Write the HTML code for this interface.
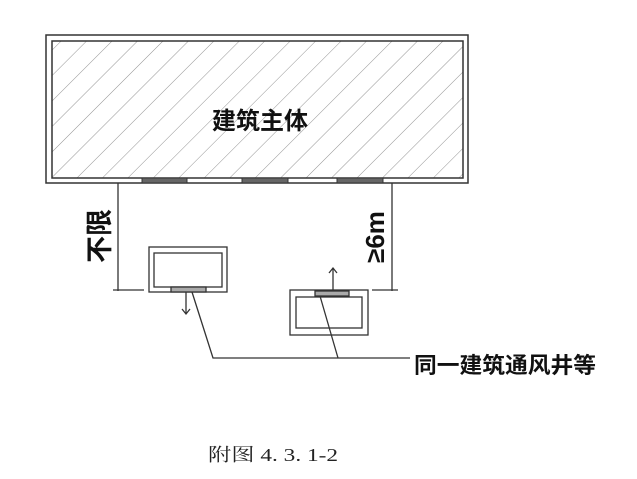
<!DOCTYPE html>
<html><head><meta charset="utf-8"><style>
html,body{margin:0;padding:0;background:#fff;width:637px;height:479px;overflow:hidden}
</style></head><body>
<svg width="637" height="479" viewBox="0 0 637 479" xmlns="http://www.w3.org/2000/svg">
<defs>
<pattern id="h" patternUnits="userSpaceOnUse" width="18" height="18" patternTransform="rotate(45)">
<line x1="0" y1="0" x2="0" y2="18" stroke="#888" stroke-width="0.9"/>
</pattern>
</defs>
<rect x="46" y="35" width="422" height="148" fill="#fff" stroke="#333" stroke-width="1.5"/>
<rect x="52" y="41" width="411" height="137" fill="url(#h)" stroke="#333" stroke-width="1.5"/>
<rect x="142" y="178" width="45" height="5" fill="#666" stroke="#333"/>
<rect x="242" y="178" width="46" height="5" fill="#666" stroke="#333"/>
<rect x="337" y="178" width="46" height="5" fill="#666" stroke="#333"/>
<text x="260" y="129" font-family="'Liberation Sans','Noto Sans CJK SC',sans-serif" font-size="24" font-weight="bold" text-anchor="middle" fill="#111">建筑主体</text>
<g stroke="#333" stroke-width="1.3" fill="none">
<line x1="118" y1="183" x2="118" y2="291"/>
<line x1="113" y1="290" x2="144" y2="290"/>
<line x1="392" y1="183" x2="392" y2="291"/>
<line x1="372" y1="290" x2="398" y2="290"/>
<rect x="149" y="247" width="78" height="45"/>
<rect x="154" y="253" width="68" height="34"/>
<rect x="171" y="287" width="35" height="5" fill="#aaa"/>
<line x1="186" y1="292" x2="186" y2="313"/>
<polyline points="182,309 186,314 190,309"/>
<rect x="290" y="290" width="78" height="45"/>
<rect x="296" y="297" width="66" height="31"/>
<rect x="315" y="291" width="34" height="5" fill="#aaa"/>
<line x1="333" y1="291" x2="333" y2="268"/>
<polyline points="329,273 333,268 337,273"/>
<polyline points="192,292 213,358 410,358"/>
<line x1="320" y1="296" x2="338" y2="358"/>
</g>
<text transform="translate(109,236) rotate(-90)" font-family="'Liberation Sans','Noto Sans CJK SC',sans-serif" font-size="27" font-weight="bold" text-anchor="middle" fill="#111">不限</text>
<text transform="translate(384,237) rotate(-90)" font-family="'Liberation Sans','Noto Sans CJK SC',sans-serif" font-size="26" font-weight="bold" text-anchor="middle" fill="#111">≥6m</text>
<text x="414" y="373" font-family="'Liberation Sans','Noto Sans CJK SC',sans-serif" font-size="22" font-weight="bold" fill="#111" textLength="182" lengthAdjust="spacingAndGlyphs">同一建筑通风井等</text>
<text x="208" y="461" font-family="'Liberation Serif','Noto Serif CJK SC',serif" font-size="18" fill="#222" textLength="130" lengthAdjust="spacingAndGlyphs">附图 4. 3. 1-2</text>
</svg>
</body></html>
